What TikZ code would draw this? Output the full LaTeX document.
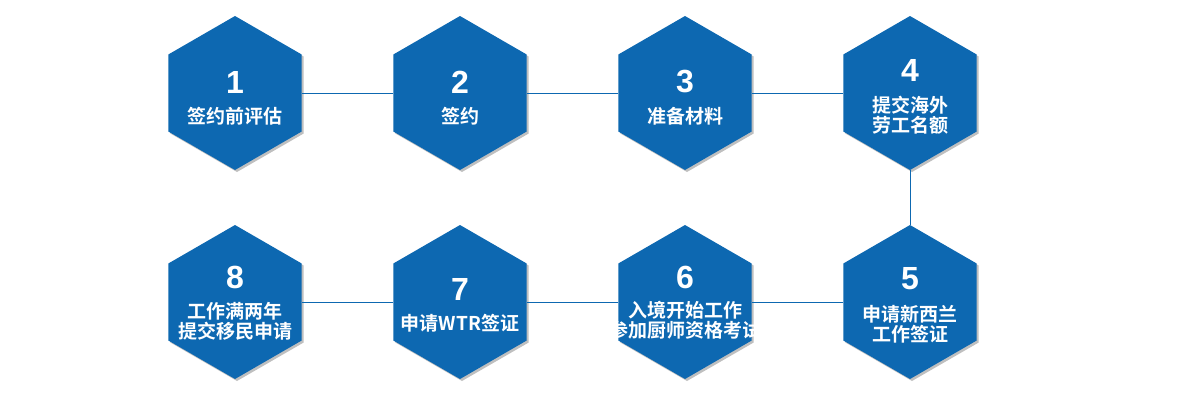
\documentclass[tikz,border=0pt]{standalone}
\usepackage{fontspec}
\setmainfont{Liberation Sans}
\newfontfamily\cjk{Noto Sans CJK SC}[BoldFont={Noto Sans CJK SC Bold}]
\usetikzlibrary{shapes.geometric,shadows}
\definecolor{hexblue}{HTML}{0D68B1}
\tikzset{
  hexa/.style={regular polygon, regular polygon sides=6, shape border rotate=30,
    minimum size=154pt, inner sep=0pt, fill=hexblue,
    drop shadow={shadow xshift=2pt, shadow yshift=-2pt, opacity=0.25, fill=black}},
  num/.style={text=white, font=\fontsize{32}{32}\selectfont\bfseries, inner sep=0pt},
  lab/.style={text=white, font=\cjk\fontsize{19}{20}\selectfont\bfseries, inner sep=0pt, align=center},
  conn/.style={draw=hexblue, line width=0.9pt}
}
\begin{document}
\begin{tikzpicture}[x=1pt,y=-1pt]
\useasboundingbox (0,0) rectangle (1200,400);
% top row
\node[hexa] (h1) at (235,93) {};
\node[hexa] (h2) at (460,93) {};
\node[hexa] (h3) at (685,93) {};
\node[hexa] (h4) at (910,93) {};
% bottom row
\node[hexa] (h8) at (235,302) {};
\node[hexa] (h7) at (460,302) {};
\node[hexa] (h6) at (685,302) {};
\node[hexa] (h5) at (910,302) {};
% connectors
\draw[conn] (h1) -- (h2);
\draw[conn] (h2) -- (h3);
\draw[conn] (h3) -- (h4);
\draw[conn] (h4) -- (h5);
\draw[conn] (h5) -- (h6);
\draw[conn] (h6) -- (h7);
\draw[conn] (h7) -- (h8);
% texts
\node[num] (n1) at (235,82) {1};
\node[lab] (t1) at (235,116) {签约前评估};
\node[num] (n2) at (460,82) {2};
\node[lab] (t2) at (460,116) {签约};
\node[num] (n3) at (685,82) {3};
\node[lab] (t3) at (685,116) {准备材料};
\node[num] (n4) at (910,70) {4};
\node[lab] (t4) at (910,115) {提交海外\\劳工名额};
\node[num] (n5) at (910,279) {5};
\node[lab] (t5) at (910,324) {申请新西兰\\工作签证};
\node[num] (n6) at (685,277) {6};
\node[lab] (t6) at (685,320) {入境开始工作\\参加厨师资格考试};
\node[num] (n7) at (460,289) {7};
\node[lab] (t7) at (460,323) {申请WTR签证};
\node[num] (n8) at (235,277) {8};
\node[lab] (t8) at (235,321) {工作满两年\\提交移民申请};
\end{tikzpicture}
\end{document}
